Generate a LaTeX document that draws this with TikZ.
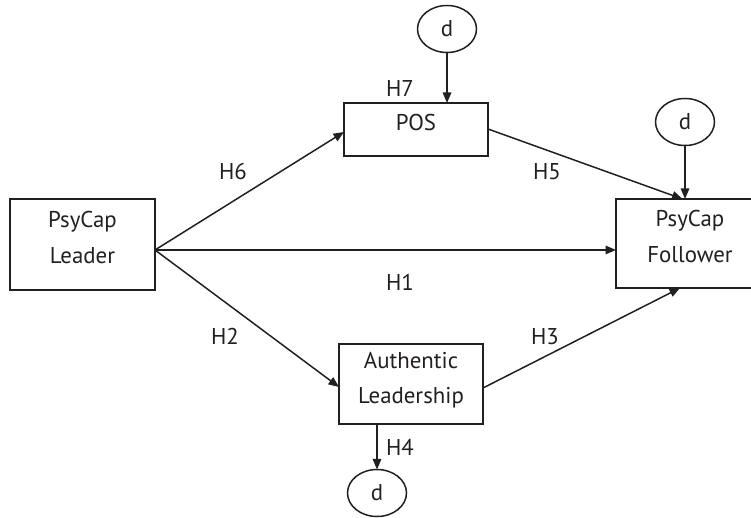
\documentclass[tikz,border=0pt]{standalone}
\usepackage{fontspec}
\setmainfont{PT Sans}
\usetikzlibrary{arrows.meta,shapes.geometric}

\definecolor{pathdraw}{RGB}{35,31,32}
\definecolor{pathtext}{RGB}{35,31,32}

\begin{document}
\begin{tikzpicture}[
  x=1cm,
  y=1cm,
  every node/.style={inner sep=0pt, outer sep=0pt},
  label/.style={font=\fontsize{13}{20}\selectfont, text=pathtext, align=center},
  hyp/.style={font=\fontsize{13}{15}\selectfont, text=pathtext},
  varbox/.style={draw=pathdraw, fill=white, line width=0.85pt},
  distbox/.style={ellipse, draw=pathdraw, line width=0.85pt, minimum width=1.18cm, minimum height=0.94cm,
    font=\fontsize{13}{15}\selectfont, text=pathtext},
  flow/.style={draw=pathdraw, line width=0.85pt, -{Triangle[length=2.1mm,width=1.7mm]}}
]

  \path[use as bounding box] (0,0) rectangle (15.02,10.34);

  % Constructs of the model.
  \node[varbox, minimum width=2.9cm, minimum height=1.82cm] (leader) at (1.65,5.45) {};
  \node[label] (leadertxt) at ([yshift=0.14cm]leader.center) {PsyCap\\Leader};
  \node[varbox, minimum width=2.88cm, minimum height=1.06cm] (pos) at (8.32,7.75) {};
  \node[label] (postxt) at ([yshift=0.13cm]pos.center) {POS};
  \node[varbox, minimum width=2.88cm, minimum height=1.6cm] (auth) at (8.22,2.66) {};
  \node[label] (authtxt) at ([yshift=0.07cm]auth.center) {Authentic\\Leadership};
  \node[varbox, minimum width=2.96cm, minimum height=1.78cm] (follower) at (13.8,5.47) {};
  \node[label] (followertxt) at ([yshift=0.14cm]follower.center) {PsyCap\\Follower};

  % Disturbance terms.
  \node[distbox] (dtop) at (8.94,9.76) {d};
  \node[distbox] (dright) at (13.7,7.9) {d};
  \node[distbox] (dbot) at (7.54,0.48) {d};

  % Paths out of the leader.
  \coordinate (fork) at ([yshift=-0.11cm]leader.east);
  \draw[flow] (fork) -- (fork -| follower.west);
  \draw[flow] (fork) -- ([yshift=-0.05cm]pos.west);
  \draw[flow] (fork) -- ([yshift=-0.06cm]auth.west);

  % Paths into the follower.
  \coordinate (fin) at (dright.south |- follower.north);
  \draw[flow] ([yshift=0.01cm]pos.east) -- ([xshift=-0.05cm]fin);
  \draw[flow] ([yshift=-0.08cm]auth.east) -- ([xshift=-0.1cm]fin |- follower.south);
  \draw[flow] (dright.south) -- (fin);

  % Disturbances on the mediators.
  \draw[flow] (dtop.south) -- (dtop.south |- pos.north);
  \draw[flow] (dbot.north |- auth.south) -- (dbot.north);

  % Hypothesis labels.
  \node[hyp] (h1) at (8.00,4.70) {H1};
  \node[hyp] (h2) at (4.50,3.62) {H2};
  \node[hyp] (h3) at (10.90,3.60) {H3};
  \node[hyp] (h4) at (8.00,1.40) {H4};
  \node[hyp] (h5) at (10.94,6.90) {H5};
  \node[hyp] (h6) at (4.66,6.90) {H6};
  \node[hyp] (h7) at (8.00,8.56) {H7};

\end{tikzpicture}
\end{document}
